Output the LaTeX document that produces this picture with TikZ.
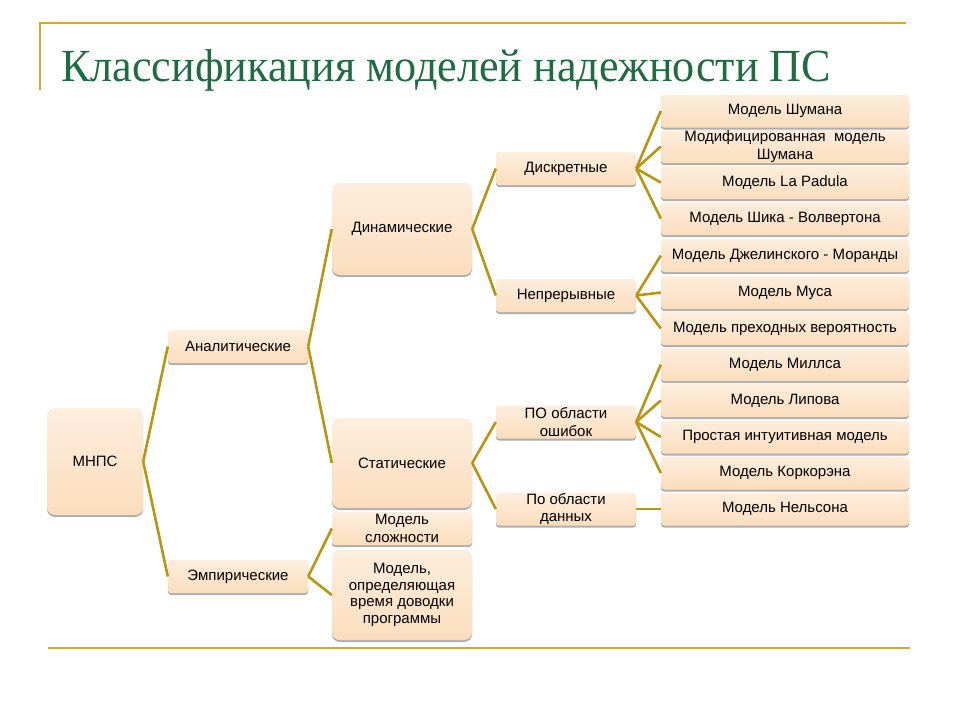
\documentclass[tikz,border=0pt]{standalone}
\usepackage{fontspec}
\setmainfont{Liberation Sans}
\newfontfamily\titlefont{Liberation Serif}
\usetikzlibrary{shadows}
\definecolor{lineGold}{HTML}{B8960F}
\definecolor{frameGold}{HTML}{D6A730}
\definecolor{titleGreen}{HTML}{1F6B42}
\definecolor{boxTop}{HTML}{FDEEDD}
\definecolor{boxBot}{HTML}{FBDDBD}
\tikzset{
  box/.style={rounded corners=3pt, top color=boxTop, bottom color=boxBot,
    drop shadow={shadow xshift=0pt, shadow yshift=-2pt, fill=black!45, opacity=0.7},
    font=\fontsize{15}{17.5}\selectfont, align=center, inner sep=0pt},
  bigbox/.style={box, rounded corners=8pt},
  conn/.style={draw=lineGold, line width=2.6pt},
}
\begin{document}
\begin{tikzpicture}[x=1pt,y=-1pt]
\useasboundingbox (0,0) rectangle (960,720);
\fill[white] (0,0) rectangle (960,720);
% frame
\draw[frameGold, line width=2pt] (40,90) -- (40,23) -- (906,23);
\draw[frameGold, line width=2pt] (48,648) -- (910,648);
\node[anchor=base west, text=titleGreen, inner sep=0pt, xscale=0.96, font=\titlefont\fontsize{46}{50}\selectfont] (title) at (61,81) {Классификация моделей надежности ПС};
% nodes
\node[bigbox, minimum width=96pt, minimum height=107pt] (mnps) at (95,461.5) {МНПС};
\node[box, minimum width=140pt, minimum height=33pt] (anal) at (238,346.5) {Аналитические};
\node[box, minimum width=140pt, minimum height=33pt] (emp) at (238,576.5) {Эмпирические};
\node[bigbox, minimum width=140pt, minimum height=92pt] (dyn) at (402,229) {Динамические};
\node[bigbox, minimum width=140pt, minimum height=90pt] (stat) at (402,463) {Статические};
\node[box, minimum width=140pt, minimum height=33pt] (slozh) at (402,528.5) {Модель\\сложности};
\node[bigbox, minimum width=140pt, minimum height=90pt, font=\fontsize{15}{16.5}\selectfont] (dovod) at (402,595) {Модель,\\определяющая\\время доводки\\программы};
\node[box, minimum width=140pt, minimum height=33pt] (diskr) at (566,168.5) {Дискретные};
\node[box, minimum width=140pt, minimum height=33pt] (nepr) at (566,295.5) {Непрерывные};
\node[box, minimum width=140pt, minimum height=33pt] (osh) at (566,422) {ПО области\\ошибок};
\node[box, minimum width=140pt, minimum height=33pt] (dann) at (566,509) {По области\\данных};
\tikzset{rbox/.style={box, minimum width=248pt, minimum height=33pt}}
\node[rbox] (r1) at (785,111) {Модель Шумана};
\node[rbox] (r2) at (785,146.5) {Модифицированная\ \ модель\\Шумана};
\node[rbox] (r3) at (785,182.5) {Модель La Padula};
\node[rbox] (r4) at (785,218.5) {Модель Шика - Волвертона};
\node[rbox] (r5) at (785,255.5) {Модель Джелинского - Моранды};
\node[rbox] (r6) at (785,292.5) {Модель Муса};
\node[rbox] (r7) at (785,328.5) {Модель преходных вероятность};
\node[rbox] (r8) at (785,364.5) {Модель Миллса};
\node[rbox] (r9) at (785,400.5) {Модель Липова};
\node[rbox] (r10) at (785,437) {Простая интуитивная модель};
\node[rbox] (r11) at (785,473) {Модель Коркорэна};
\node[rbox] (r12) at (785,509) {Модель Нельсона};
% connectors
\foreach \a/\b in {mnps/anal, mnps/emp, anal/dyn, anal/stat, emp/slozh, emp/dovod,
  dyn/diskr, dyn/nepr, stat/osh, stat/dann,
  diskr/r1, diskr/r2, diskr/r3, diskr/r4, nepr/r5, nepr/r6, nepr/r7,
  osh/r8, osh/r9, osh/r10, osh/r11, dann/r12}
  \draw[conn] (\a.east) -- (\b.west);
\end{tikzpicture}
\end{document}
